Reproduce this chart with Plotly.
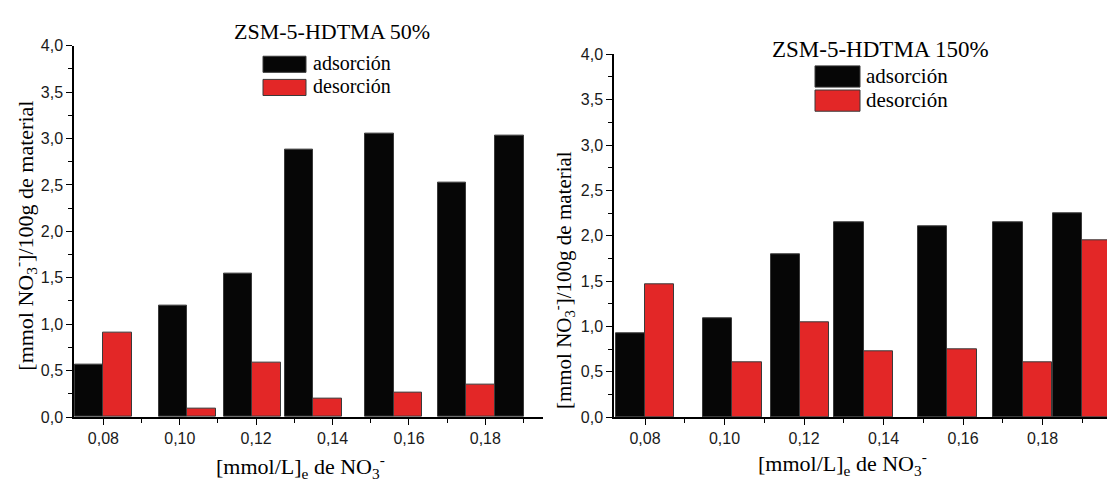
import plotly.graph_objects as go

# ---------------- data ----------------
conc = [0.080, 0.102, 0.119, 0.135, 0.156, 0.175, 0.190]
ads_50 = [0.57, 1.20, 1.55, 2.88, 3.05, 2.53, 3.03]
des_50 = [0.91, 0.09, 0.59, 0.20, 0.26, 0.35, None]
ads_150 = [0.92, 1.09, 1.80, 2.15, 2.10, 2.15, 2.25]
des_150 = [1.46, 0.60, 1.04, 0.73, 0.75, 0.60, 1.95]
series_names = ["adsorción", "desorción"]
titles = ["ZSM-5-HDTMA 50%", "ZSM-5-HDTMA 150%"]
y_title = "[mmol NO<sub>3</sub><sup>-</sup>]/100g de material"
x_title = "[mmol/L]<sub>e</sub> de NO<sub>3</sub><sup>-</sup>"

W, H = 1107, 483
BAR_W = 0.0074
BLACK = "#060606"
RED = "#e32727"
EDGE = "#3a3a3a"
SERIF = "Liberation Serif"
SANS = "Liberation Sans"


def px(x):
    return x / W


def py(y):
    return 1 - y / H


fig = go.Figure()

for ads, des, xa, ya in [(ads_50, des_50, "x", "y"), (ads_150, des_150, "x2", "y2")]:
    fig.add_trace(go.Bar(x=conc, y=ads, width=BAR_W, offset=-BAR_W, name=series_names[0],
                         marker=dict(color=BLACK, line=dict(color=EDGE, width=1)),
                         xaxis=xa, yaxis=ya, showlegend=False))
    fig.add_trace(go.Bar(x=conc, y=des, width=BAR_W, offset=0, name=series_names[1],
                         marker=dict(color=RED, line=dict(color=EDGE, width=1)),
                         xaxis=xa, yaxis=ya, showlegend=False))

xcommon = dict(showline=True, linecolor="black", linewidth=1.5, showgrid=False, zeroline=False,
               ticks="outside", ticklen=6, tickwidth=1.2, tickcolor="black",
               tick0=0.08, dtick=0.02, tickformat=".2f",
               minor=dict(dtick=0.01, ticks="outside", ticklen=4, tickwidth=1.2, tickcolor="black"),
               tickfont=dict(family=SANS, size=16, color="#1a1a1a"))
ycommon = dict(showline=True, linecolor="black", linewidth=1.5, showgrid=False, zeroline=False,
               range=[0, 4], ticks="outside", ticklen=6, tickwidth=1.2, tickcolor="black",
               tick0=0, dtick=0.5, tickformat=".1f",
               minor=dict(dtick=0.25, ticks="outside", ticklen=4, tickwidth=1.2, tickcolor="black"),
               tickfont=dict(family=SANS, size=16, color="#1a1a1a"))

fig.update_layout(
    width=W, height=H, margin=dict(l=0, r=0, t=0, b=0),
    paper_bgcolor="white", plot_bgcolor="white",
    separators=",.", barmode="overlay", bargap=0,
    xaxis=dict(domain=[px(74), px(543)], range=[0.0723, 0.1951], anchor="y", **xcommon),
    yaxis=dict(domain=[py(424), py(39)], anchor="x", **ycommon),
    xaxis2=dict(domain=[px(614), 1.0], range=[0.0722, 0.1962], anchor="y2", **xcommon),
    yaxis2=dict(domain=[py(424), py(48)], anchor="x2", **ycommon),
)

ann = []
shapes = []

# chart titles
ann.append(dict(text=titles[0], x=px(332), y=py(24), xref="paper", yref="paper", showarrow=False,
                xanchor="center", yanchor="middle", font=dict(family=SERIF, size=22, color="black")))
ann.append(dict(text=titles[1], x=px(880), y=py(43), xref="paper", yref="paper", showarrow=False,
                xanchor="center", yanchor="middle", font=dict(family=SERIF, size=23, color="black")))

# y-axis titles
ann.append(dict(text=y_title, x=px(25), y=py(236), xref="paper", yref="paper", showarrow=False,
                textangle=-90, xanchor="center", yanchor="middle",
                font=dict(family=SERIF, size=22, color="black")))
ann.append(dict(text=y_title, x=px(563), y=py(282), xref="paper", yref="paper", showarrow=False,
                textangle=-90, xanchor="center", yanchor="middle",
                font=dict(family=SERIF, size=21, color="black")))

# x-axis titles
ann.append(dict(text=x_title, x=px(300), y=py(475), xref="paper", yref="paper", showarrow=False,
                xanchor="center", yanchor="middle", font=dict(family=SERIF, size=22, color="black")))
ann.append(dict(text=x_title, x=px(842), y=py(472), xref="paper", yref="paper", showarrow=False,
                xanchor="center", yanchor="middle", font=dict(family=SERIF, size=22, color="black")))

# legends (drawn boxes + real text)
legends = [
    dict(x0=263, x1=306, rows=[(50, 66.7), (74, 90.7)], tx=311, fs=20),
    dict(x0=815, x1=860, rows=[(60, 82), (85, 107)], tx=864, fs=21),
]
for lg in legends:
    for (y0, y1), col, name in zip(lg["rows"], [BLACK, RED], series_names):
        shapes.append(dict(type="rect", xref="paper", yref="paper",
                           x0=px(lg["x0"]), x1=px(lg["x1"]), y0=py(y1), y1=py(y0),
                           fillcolor=col, line=dict(color=EDGE, width=1)))
        ann.append(dict(text=name, x=px(lg["tx"]), y=py((y0 + y1) / 2 - 1), xref="paper", yref="paper",
                        showarrow=False, xanchor="left", yanchor="middle",
                        font=dict(family=SERIF, size=lg["fs"], color="black")))

fig.update_layout(annotations=ann, shapes=shapes)

fig.write_html("out.html")
